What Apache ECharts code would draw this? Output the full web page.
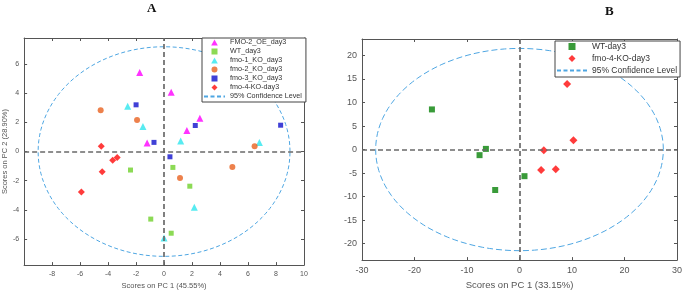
<!DOCTYPE html>
<html>
<head>
<meta charset="utf-8">
<script src="https://cdn.jsdelivr.net/npm/echarts@6/dist/echarts.min.js"></script>
<style>
html, body { margin: 0; padding: 0; background: #fff; }
#chart { width: 685px; height: 295px; }
</style>
</head>
<body>
<div id="chart"></div>
<script>
// panel A scores, [PC1, PC2]
var fmo2OE = [[-1.74, 5.43], [0.51, 4.07], [2.56, 2.29], [1.63, 1.45], [-1.21, 0.59]];
var wtA = [[-2.40, -1.27], [0.63, -1.09], [1.84, -2.38], [-0.95, -4.64], [0.51, -5.61]];
var fmo1KO = [[-2.60, 3.12], [-1.51, 1.72], [1.19, 0.72], [6.81, 0.63], [2.16, -3.82], [0.0, -5.93]];
var fmo2KO = [[-4.53, 2.83], [-1.93, 2.17], [6.47, 0.36], [4.88, -1.06], [1.14, -1.81]];
var fmo3KO = [[-2.00, 3.21], [-0.72, 0.63], [2.23, 1.79], [8.33, 1.81], [0.42, -0.36]];
var fmo4KOA = [[-4.49, 0.36], [-3.35, -0.41], [-3.67, -0.59], [-4.42, -1.38], [-5.91, -2.78]];
// panel B scores
var wtB = [[-16.68, 8.53], [-6.40, 0.14], [-7.61, -1.19], [-4.63, -8.60], [0.95, -5.66]];
var fmo4KOB = [[9.07, 13.92], [10.27, 1.96], [4.63, -0.14], [4.12, -4.34], [6.91, -4.20]];

// 95% confidence ellipse semi-axes
var ellA = [9.0, 7.2];
var ellB = [27.4, 21.5];

// tick labels
var ticksAx = [-8, -6, -4, -2, 0, 2, 4, 6, 8, 10];
var ticksAy = [-6, -4, -2, 0, 2, 4, 6];
var ticksBx = [-30, -20, -10, 0, 10, 20, 30];
var ticksBy = [-20, -15, -10, -5, 0, 5, 10, 15, 20];

var ellName = '95% Confidence Level';

// legend icons kept square inside the wider legend slot
var icons = {
    triangle: 'path://M5,0L10,9L0,9Z',
    rect: 'path://M0,0H10V10H0Z',
    circle: 'path://M5,0A5,5,0,1,1,4.99,0Z',
    diamond: 'path://M5,0L10,5L5,10L0,5Z'
};

function ellipse(ab) {
    var pts = [];
    for (var i = 0; i <= 120; i++) {
        var t = i / 120 * 2 * Math.PI;
        pts.push([ab[0] * Math.cos(t), ab[1] * Math.sin(t)]);
    }
    return pts;
}

var chart = echarts.init(document.getElementById('chart'));
var font = 'Liberation Sans, Arial, sans-serif';
var frame = '#555';

function axis(grid, pos, min, max, ticks, fs, margin, name, gap) {
    var main = pos === 'bottom' || pos === 'left';
    return {
        type: 'value', gridIndex: grid, position: pos, min: min, max: max,
        splitLine: { show: false },
        axisLine: { show: true, onZero: false, lineStyle: { color: frame, width: 1 } },
        axisTick: { show: true, inside: true, length: 3, customValues: ticks, lineStyle: { color: frame } },
        axisLabel: { show: main, customValues: ticks, fontSize: fs, color: '#555', fontFamily: font, margin: margin },
        name: main ? name : '', nameLocation: 'middle', nameGap: gap,
        nameTextStyle: { fontSize: fs + 0.5, color: '#555', fontFamily: font }
    };
}

function scatter(name, data, sym, size, color, xi, yi) {
    return {
        name: name, type: 'scatter', data: data, symbol: sym, symbolSize: size,
        xAxisIndex: xi, yAxisIndex: yi, z: 3,
        itemStyle: { color: color }
    };
}

function ellSeries(ab, dash, xi, yi) {
    return {
        name: ellName, type: 'line', data: ellipse(ab), showSymbol: false, symbol: 'none',
        xAxisIndex: xi, yAxisIndex: yi, z: 1, silent: true,
        lineStyle: { color: '#4ea6e2', width: 1, type: dash },
        markLine: {
            silent: true, symbol: ['none', 'none'], label: { show: false },
            lineStyle: { color: '#6a6a6a', width: 1.7, type: [5, 3] },
            data: [{ xAxis: 0 }, { yAxis: 0 }]
        }
    };
}

function legendItem(name, sym) {
    return { name: name, icon: icons[sym] };
}
var ellLegend = { name: ellName, itemStyle: { color: 'rgba(0,0,0,0)', borderWidth: 0, opacity: 0 } };

var titleStyle = { fontFamily: 'Liberation Serif, serif', fontWeight: 'bold', fontSize: 13, color: '#111' };

var option = {
    animation: false,
    title: [
        { text: 'A', left: 147, top: 2, padding: 0, textStyle: titleStyle },
        { text: 'B', left: 605, top: 5, padding: 0, textStyle: titleStyle }
    ],
    grid: [
        { left: 22, top: 38, width: 282, height: 230 },
        { left: 362, top: 39, width: 316, height: 224 }
    ],
    xAxis: [
        axis(0, 'bottom', -10, 10, ticksAx, 7, 5, 'Scores on PC 1 (45.55%)', 14),
        axis(0, 'top', -10, 10, ticksAx, 7, 5, '', 0),
        axis(1, 'bottom', -30, 30, ticksBx, 9, 6, 'Scores on PC 1 (33.15%)', 17),
        axis(1, 'top', -30, 30, ticksBx, 9, 6, '', 0)
    ],
    yAxis: [
        axis(0, 'left', -7.8, 7.8, ticksAy, 7, 5, 'Scores on PC 2 (28.90%)', 12),
        axis(0, 'right', -7.8, 7.8, ticksAy, 7, 5, '', 0),
        axis(1, 'left', -23.5, 23.5, ticksBy, 9, 5, '', 0),
        axis(1, 'right', -23.5, 23.5, ticksBy, 9, 5, '', 0)
    ],
    legend: [
        {
            data: [
                legendItem('FMO-2_OE_day3', 'triangle'), legendItem('WT_day3', 'rect'),
                legendItem('fmo-1_KO_day3', 'triangle'), legendItem('fmo-2_KO_day3', 'circle'),
                legendItem('fmo-3_KO_day3', 'rect'), legendItem('fmo-4-KO-day3', 'diamond'), ellLegend
            ],
            orient: 'vertical', left: 202, top: 38,
            itemWidth: 21, itemHeight: 6, itemGap: 2, symbolKeepAspect: true,
            padding: [1, 4, 2, 1], borderColor: '#444', borderWidth: 1, backgroundColor: '#fff',
            textStyle: { fontSize: 7.2, color: '#333', fontFamily: font },
            selectedMode: false
        },
        {
            data: [legendItem('WT-day3', 'rect'), legendItem('fmo-4-KO-day3', 'diamond'), ellLegend],
            orient: 'vertical', left: 555, top: 41,
            itemWidth: 30, itemHeight: 7, itemGap: 3, symbolKeepAspect: true,
            padding: [1, 3, 2, 1], borderColor: '#444', borderWidth: 1, backgroundColor: '#fff',
            textStyle: { fontSize: 8.5, color: '#333', fontFamily: font },
            selectedMode: false
        }
    ],
    series: [
        ellSeries(ellA, [4, 2.5], 0, 0),
        scatter('FMO-2_OE_day3', fmo2OE, 'triangle', 7, '#ff00ff', 0, 0),
        scatter('WT_day3', wtA, 'rect', 5, '#6fd12b', 0, 0),
        scatter('fmo-1_KO_day3', fmo1KO, 'triangle', 7, '#2ee6ee', 0, 0),
        scatter('fmo-2_KO_day3', fmo2KO, 'circle', 6, '#e8621f', 0, 0),
        scatter('fmo-3_KO_day3', fmo3KO, 'rect', 5, '#1010cc', 0, 0),
        scatter('fmo-4-KO-day3', fmo4KOA, 'diamond', 7, '#ff0a0a', 0, 0),
        ellSeries(ellB, [6, 3], 2, 2),
        scatter('WT-day3', wtB, 'rect', 6, '#078207', 2, 2),
        scatter('fmo-4-KO-day3', fmo4KOB, 'diamond', 8, '#ff0a0a', 2, 2)
    ]
};
chart.setOption(option);
</script>
</body>
</html>
